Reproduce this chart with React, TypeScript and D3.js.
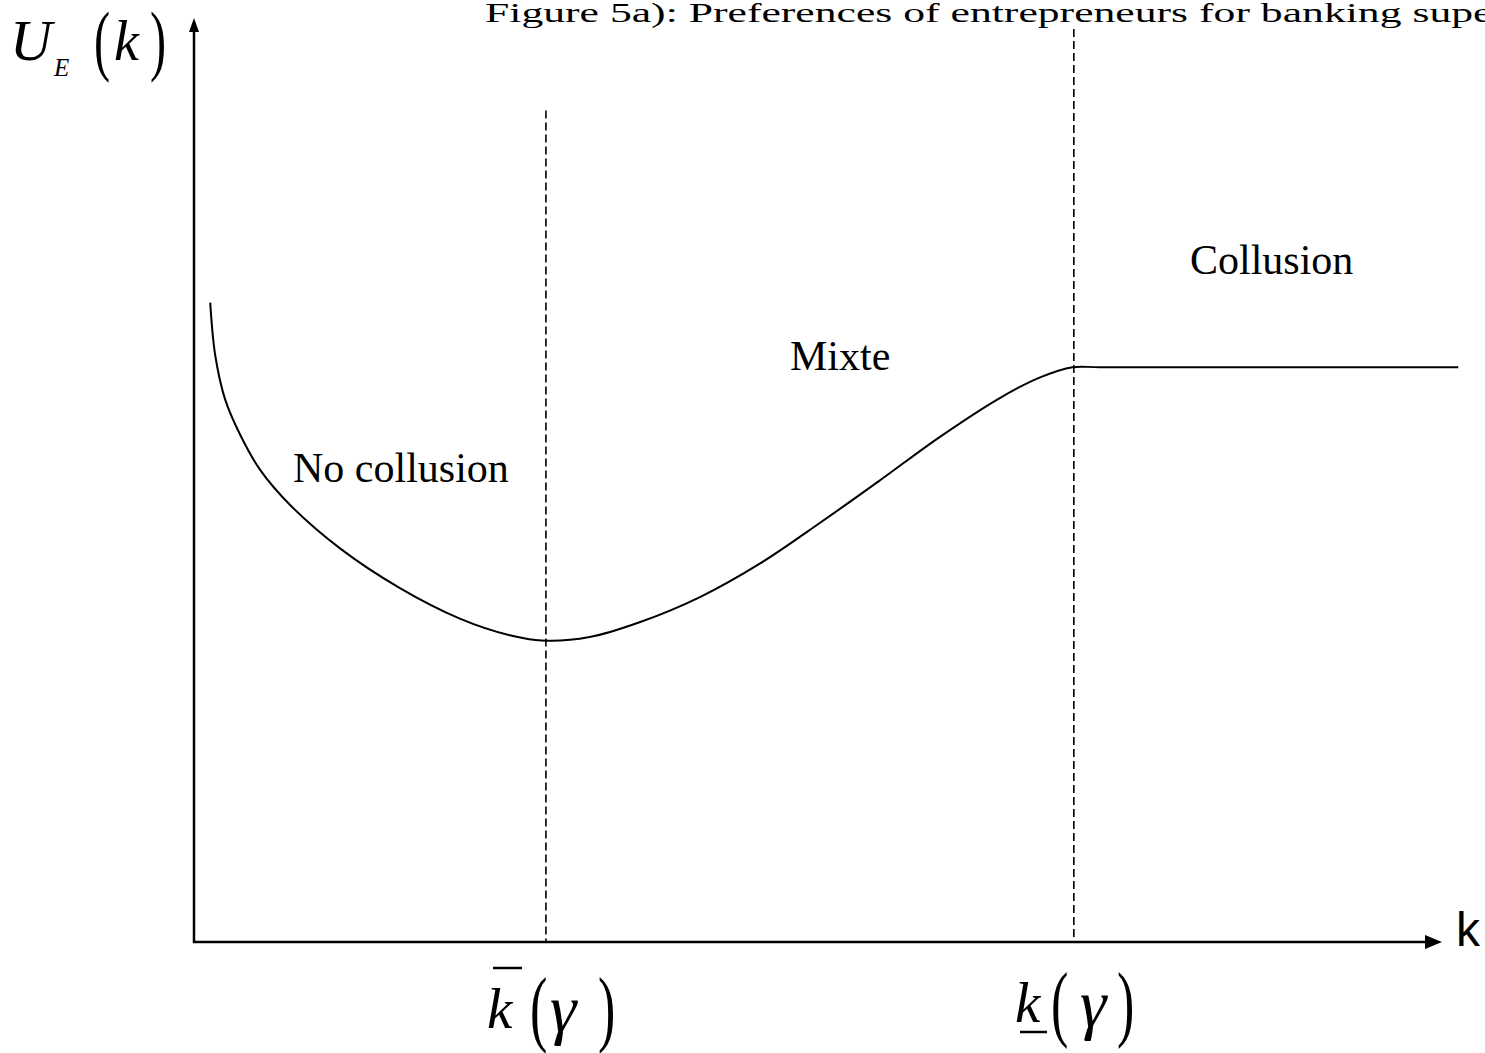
import * as d3 from "d3";
import * as React from "react";

// curve (k in 0..100 axis units, U_E in 0..100)
const kValues = [1.3, 1.7, 2.5, 3.7, 5.3, 7.7, 11.7, 16.5, 21.3, 25.3, 28.2, 31.7, 35.7, 40.5, 45.4, 50.2, 55.0, 59.8, 64.6, 67.8, 70.4, 72.6, 101.3];
const uValues = [69.2, 63.5, 58.7, 54.9, 51.1, 47.3, 42.6, 38.3, 35.0, 33.2, 32.6, 33.0, 34.6, 37.3, 41.0, 45.4, 50.0, 54.7, 58.9, 61.1, 62.2, 62.2, 62.2];

// thresholds k-bar(gamma) and k-underline(gamma), with top of dashed guide
const thresholdK = [28.2, 70.5];
const thresholdTop = [90.0, 98.8];

const regionLabels = ["No collusion", "Mixte", "Collusion"];
const title = "Figure 5a):  Preferences of entrepreneurs for banking supervision";

const serif = "'Liberation Serif', 'Times New Roman', serif";
const sans = "'Liberation Sans', Arial, sans-serif";

// narrow, tall bracket as in the equation editor
function Paren({ x, y, ch, size }: { x: number; y: number; ch: string; size: number }) {
  return (
    <text transform={`translate(${x},${y}) scale(0.62,1)`} fontFamily={serif} fontSize={size} fill="#000">
      {ch}
    </text>
  );
}

export default function App() {
  const width = 1485;
  const height = 1053;

  const x = d3.scaleLinear([0, 100], [194, 1442]);
  const y = d3.scaleLinear([0, 100], [942, 18]);

  const pts = kValues.map((k, i) => [k, uValues[i]] as [number, number]);
  const line = d3
    .line<[number, number]>()
    .x((d) => x(d[0]))
    .y((d) => y(d[1]))
    .curve(d3.curveCatmullRom.alpha(0.5));

  const x0 = x(0);
  const y0 = y(0);

  // region label anchors (pixel layout)
  const labelPos = [
    [293, 482],
    [790, 370],
    [1190, 274],
  ];

  return (
    <svg
      width={width}
      height={height}
      viewBox={`0 0 ${width} ${height}`}
      style={{ position: "absolute", left: 0, top: 0, background: "#fff" }}
    >
      <rect width={width} height={height} fill="#fff" />

      <text transform="translate(485,22) scale(1.56,1)" fontFamily={serif} fontSize={28} fill="#000">
        {title}
      </text>

      {/* dashed guides */}
      {thresholdK.map((k, i) => (
        <line
          key={i}
          x1={x(k)}
          x2={x(k)}
          y1={y(thresholdTop[i])}
          y2={y0}
          stroke="#000"
          strokeWidth={1.6}
          strokeDasharray="8 4"
        />
      ))}

      {/* axes */}
      <line x1={x0} x2={x0} y1={y0 + 1} y2={y(100) + 12} stroke="#000" strokeWidth={2.5} />
      <polygon points={`${x0},${y(100)} ${x0 - 5},${y(100) + 14} ${x0 + 5},${y(100) + 14}`} fill="#000" />
      <line x1={x0 - 1} x2={x(100) - 14} y1={y0} y2={y0} stroke="#000" strokeWidth={2.5} />
      <polygon points={`${x(100)},${y0} ${x(100) - 17},${y0 - 7} ${x(100) - 17},${y0 + 7}`} fill="#000" />
      <text x={1456} y={946} fontFamily={sans} fontSize={48} fill="#000">k</text>

      {/* curve */}
      <path d={line(pts) ?? ""} fill="none" stroke="#000" strokeWidth={2} />

      {regionLabels.map((t, i) => (
        <text key={t} x={labelPos[i][0]} y={labelPos[i][1]} fontFamily={serif} fontSize={42} fill="#000">
          {t}
        </text>
      ))}

      {/* y label U_E(k) */}
      <g fontFamily={serif} fill="#000" fontStyle="italic">
        <text x={10} y={60} fontSize={58}>U</text>
        <text x={54} y={76} fontSize={25}>E</text>
        <text x={114} y={60} fontSize={56}>k</text>
      </g>
      <Paren x={94} y={66} ch="(" size={78} />
      <Paren x={150} y={66} ch=")" size={78} />

      {/* k-bar(gamma) */}
      <line x1={493} x2={522} y1={968} y2={968} stroke="#000" strokeWidth={2.5} />
      <g fontFamily={serif} fill="#000" fontStyle="italic">
        <text x={487} y={1028} fontSize={57}>k</text>
        <text x={550} y={1032} fontSize={67}>γ</text>
      </g>
      <Paren x={530} y={1036} ch="(" size={84} />
      <Paren x={598} y={1036} ch=")" size={84} />

      {/* k-underline(gamma) */}
      <line x1={1020} x2={1047} y1={1032} y2={1032} stroke="#000" strokeWidth={2.5} />
      <g fontFamily={serif} fill="#000" fontStyle="italic">
        <text x={1015} y={1022} fontSize={57}>k</text>
        <text x={1080} y={1027} fontSize={67}>γ</text>
      </g>
      <Paren x={1051} y={1031} ch="(" size={84} />
      <Paren x={1117} y={1031} ch=")" size={84} />
    </svg>
  );
}
